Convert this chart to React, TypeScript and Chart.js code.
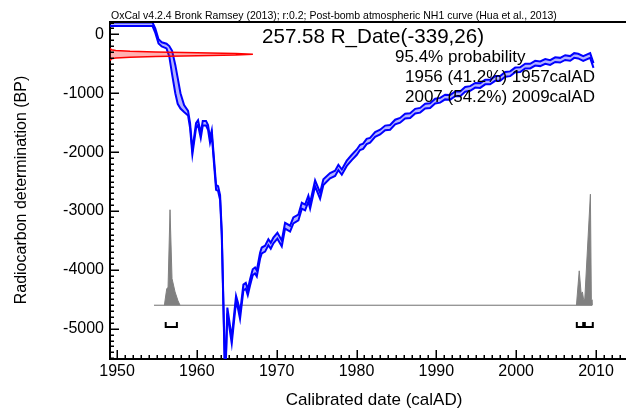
import React, { useEffect, useRef } from "react";
import { Chart, registerables } from "chart.js";

Chart.register(...registerables);

// ---- Data ----
const curveYears = [
  1949.1, 1954.45, 1954.8, 1955.2, 1955.6, 1956.2, 1956.55, 1956.9, 1957.3, 1957.6,
  1957.95, 1958.4, 1958.9, 1959.15, 1959.44, 1959.9, 1960.15, 1960.49, 1960.74, 1961.15,
  1961.4, 1961.65, 1961.87, 1962.07, 1962.41, 1962.66, 1962.91, 1963.12, 1963.55, 1963.82,
  1964.37, 1964.91, 1965.16, 1965.41, 1965.83, 1966.13, 1966.38, 1966.67, 1967.0, 1967.29,
  1967.51, 1967.92, 1968.13, 1968.55, 1968.96, 1969.26, 1969.59, 1970.09, 1970.64, 1971.05,
  1971.68, 1972.09, 1972.72, 1973.15, 1973.56, 1973.97, 1974.19, 1974.81, 1975.44, 1975.85,
  1976.69, 1977.32, 1977.73, 1978.16, 1978.78, 1979.41, 1980.04, 1980.44, 1980.83, 1981.27,
  1981.7, 1982.33, 1982.96, 1983.59, 1984.21, 1984.84, 1985.46, 1986.09, 1986.72, 1987.35,
  1987.97, 1988.6, 1989.22, 1989.85, 1990.48, 1991.1, 1991.73, 1992.36, 1992.98, 1993.61,
  1994.24, 1994.87, 1995.49, 1996.12, 1996.74, 1997.37, 1998.0, 1998.63, 1999.25, 1999.88,
  2000.5, 2001.13, 2001.75, 2002.38, 2003.01, 2003.64, 2004.26, 2004.89, 2005.51, 2006.14,
  2006.77, 2007.27, 2007.77, 2008.4, 2009.27, 2009.69,
];
const curveBP = [
  170, 170, 60, -120, -170, -200, -290, -480, -760, -960,
  -1130, -1260, -1340, -1550, -2000, -1550, -1500, -1720, -1510, -1510,
  -1580, -1800, -1670, -2020, -2600, -2620, -2770, -3380, -5900, -4690,
  -5200, -4490, -4610, -4780, -4300, -4270, -4380, -4210, -4040, -4010,
  -4060, -3760, -3670, -3640, -3530, -3590, -3500, -3420, -3550, -3250,
  -3300, -3160, -3110, -2910, -2940, -2790, -2910, -2530, -2740, -2510,
  -2400, -2360, -2260, -2340, -2190, -2090, -2000, -1920, -1900, -1820,
  -1800, -1700, -1660, -1590, -1580, -1490, -1460, -1390, -1380, -1305,
  -1290, -1220, -1210, -1135, -1120, -1065, -1070, -1010, -1010, -935,
  -920, -865, -870, -810, -810, -750, -750, -680, -670, -605,
  -600, -540, -540, -490, -500, -460, -480, -430, -440, -395,
  -410, -360, -370, -410, -360, -530,
];
const curveSigma = [
  30, 30, 35, 35, 35, 40, 90, 200, 240, 220,
  130, 60, 40, 40, 40, 40, 40, 40, 40, 40,
  40, 40, 40, 40, 40, 40, 40, 40, 40, 50,
  50, 50, 50, 50, 50, 50, 50, 50, 50, 50,
  50, 50, 50, 50, 50, 50, 50, 50, 50, 50,
  50, 50, 50, 50, 50, 50, 50, 50, 50, 50,
  45, 45, 45, 45, 45, 45, 45, 45, 45, 45,
  40, 40, 40, 40, 40, 40, 40, 40, 40, 40,
  40, 40, 40, 40, 40, 40, 40, 40, 40, 40,
  40, 40, 40, 40, 40, 40, 40, 40, 40, 40,
  40, 40, 40, 40, 40, 40, 40, 40, 40, 40,
  40, 40, 40, 40, 40, 40,
];

const rDateMean = -339;
const rDateSigma = 26;
const rDateSpread = [-4, -3, -2.5, -2, -1.5, -1, -0.5, 0, 0.5, 1, 1.5, 2, 2.5, 3, 4];
const rDateDensity = [0, 0.01, 0.04, 0.14, 0.32, 0.61, 0.88, 1, 0.88, 0.61, 0.32, 0.14, 0.04, 0.01, 0];

const histLeftYears = [1955.93, 1956.23, 1956.39, 1956.64, 1956.89, 1957.27, 1957.64, 1957.89];
const histLeftProb = [0, 0.15, 0.16, 0.86, 0.24, 0.12, 0.04, 0];
const histRightYears = [2007.55, 2007.9, 2008.15, 2008.3, 2008.45, 2008.6, 2009.3, 2009.42, 2009.5];
const histRightProb = [0, 0.31, 0.1, 0.12, 0.05, 0.06, 1.0, 0.05, 0];

const rangeStartYears = [1956.1, 2007.6, 2008.6];
const rangeEndYears = [1957.5, 2008.4, 2009.6];

const summaryFrom = [1956, 2007];
const summaryTo = [1957, 2009];
const summaryPct = [41.2, 54.2];
const agreement = "257.58";

const xTickValues = [1950, 1960, 1970, 1980, 1990, 2000, 2010];
const yTickValues = [0, -1000, -2000, -3000, -4000, -5000];

const headerText =
  "OxCal v4.2.4 Bronk Ramsey (2013); r:0.2; Post-bomb atmospheric NH1 curve (Hua et al., 2013)";
const xTitle = "Calibrated date (calAD)";
const yTitle = "Radiocarbon determination (BP)";

// ---- Layout constants ----
const X_MIN = 1949.12;
const X_MAX = 2013.76;
const Y_MIN = -5513;
const Y_MAX = 209;
const HIST_BASE = -4600;
const HIST_SCALE = 1885;
const HIST_FROM = 1954.63;
const HIST_TO = 2009.5;
const BRACKET_TOP = -4885;
const BRACKET_BOTTOM = -4970;
const WEDGE_WIDTH = 17.9;
const FONT = '"Liberation Sans", Arial, sans-serif';

const overlay = {
  id: "overlay",
  afterDraw(chart: any) {
    const { ctx, chartArea, scales } = chart;
    const { left, right, top, bottom } = chartArea;
    const xs = scales.x;
    const ys = scales.y;
    ctx.save();
    ctx.strokeStyle = "#000";
    ctx.lineWidth = 2;
    ctx.beginPath();
    ctx.moveTo(left - 1, top);
    ctx.lineTo(right, top);
    ctx.stroke();

    ctx.lineWidth = 1.5;
    ctx.beginPath();
    for (let v = Math.ceil(X_MIN); v <= X_MAX; v++) {
      const px = Math.round(xs.getPixelForValue(v)) + 0.25;
      const len = v % 10 === 0 ? 9 : 4;
      ctx.moveTo(px, bottom);
      ctx.lineTo(px, bottom - len);
    }
    for (let v = Math.ceil(Y_MIN / 100) * 100; v <= Y_MAX; v += 100) {
      const py = Math.round(ys.getPixelForValue(v)) + 0.25;
      const len = v % 1000 === 0 ? 9 : 4;
      ctx.moveTo(left, py);
      ctx.lineTo(left + len, py);
    }
    ctx.stroke();

    ctx.fillStyle = "#000";
    ctx.textAlign = "left";
    ctx.textBaseline = "alphabetic";
    ctx.font = `10.5px ${FONT}`;
    ctx.fillText(headerText, 111, 19);

    ctx.font = `20.6px ${FONT}`;
    ctx.fillText(`${agreement} R_Date(${rDateMean},${rDateSigma})`, 262, 43);

    ctx.font = `17px ${FONT}`;
    ctx.fillText("95.4% probability", 395, 62);
    summaryFrom.forEach((f, i) => {
      ctx.fillText(`${f} (${summaryPct[i].toFixed(1)}%) ${summaryTo[i]}calAD`, 405, 82 + i * 19.5);
    });

    ctx.font = `17px ${FONT}`;
    ctx.textAlign = "center";
    ctx.fillText(xTitle, 374, 405);

    ctx.font = `16px ${FONT}`;
    ctx.translate(26, 190);
    ctx.rotate(-Math.PI / 2);
    ctx.fillText(yTitle, 0, 0);
    ctx.restore();
  },
};

function pts(xsArr: number[], ysArr: number[]) {
  return xsArr.map((x, i) => ({ x, y: ysArr[i] }));
}

export default function App() {
  const ref = useRef<HTMLCanvasElement | null>(null);

  useEffect(() => {
    if (!ref.current) return;
    const upper = curveYears.map((x, i) => ({ x, y: curveBP[i] + curveSigma[i] }));
    const lower = curveYears.map((x, i) => ({ x, y: curveBP[i] - curveSigma[i] }));
    const wedge = rDateSpread.map((s, i) => ({
      x: X_MIN + rDateDensity[i] * WEDGE_WIDTH,
      y: rDateMean + s * rDateSigma,
    }));
    const histL = pts(histLeftYears, histLeftProb.map((p) => HIST_BASE + p * HIST_SCALE));
    const histR = pts(histRightYears, histRightProb.map((p) => HIST_BASE + p * HIST_SCALE));
    const brackets = rangeStartYears.map((s, i) => ({
      data: [
        { x: s, y: BRACKET_TOP },
        { x: s, y: BRACKET_BOTTOM },
        { x: rangeEndYears[i], y: BRACKET_BOTTOM },
        { x: rangeEndYears[i], y: BRACKET_TOP },
      ],
      borderColor: "#000",
      borderWidth: 2,
      pointRadius: 0,
      fill: false,
      tension: 0,
    }));

    const chart = new Chart(ref.current, {
      type: "line",
      data: {
        datasets: [
          {
            data: wedge,
            borderColor: "#ff0000",
            borderWidth: 1.5,
            backgroundColor: "rgba(255,0,0,0.3)",
            fill: "shape",
            pointRadius: 0,
            tension: 0,
          } as any,
          {
            data: upper,
            borderColor: "#0000ff",
            borderWidth: 2,
            pointRadius: 0,
            fill: false,
            tension: 0,
          },
          {
            data: lower,
            borderColor: "#0000ff",
            borderWidth: 2,
            backgroundColor: "rgba(0,0,255,0.3)",
            fill: "-1",
            pointRadius: 0,
            tension: 0,
          },
          ...brackets,
          {
            data: histL,
            borderColor: "#808080",
            borderWidth: 1,
            backgroundColor: "#808080",
            fill: { value: HIST_BASE },
            pointRadius: 0,
            tension: 0,
          },
          {
            data: histR,
            borderColor: "#808080",
            borderWidth: 1,
            backgroundColor: "#808080",
            fill: { value: HIST_BASE },
            pointRadius: 0,
            tension: 0,
          },
          {
            data: [
              { x: HIST_FROM, y: HIST_BASE },
              { x: HIST_TO, y: HIST_BASE },
            ],
            borderColor: "#707070",
            borderWidth: 1,
            pointRadius: 0,
            fill: false,
          },
        ],
      },
      options: {
        responsive: false,
        devicePixelRatio: 1,
        animation: false,
        layout: { padding: { top: 22, left: 0, right: 0, bottom: 0 } },
        plugins: { legend: { display: false }, tooltip: { enabled: false }, title: { display: false } },
        scales: {
          x: {
            type: "linear",
            min: X_MIN,
            max: X_MAX,
            afterBuildTicks: (s: any) => {
              s.ticks = xTickValues.map((v) => ({ value: v }));
            },
            afterFit: (s: any) => {
              s.height = 49;
            },
            grid: { display: false, drawTicks: false },
            border: { display: true, color: "#000", width: 2 },
            ticks: {
              color: "#000",
              font: { family: FONT, size: 16 },
              padding: 3,
              maxRotation: 0,
              autoSkip: false,
              callback: (v: any) => String(v),
            },
          },
          y: {
            type: "linear",
            min: Y_MIN,
            max: Y_MAX,
            afterBuildTicks: (s: any) => {
              s.ticks = yTickValues.map((v) => ({ value: v }));
            },
            afterFit: (s: any) => {
              s.width = 110;
            },
            grid: { display: false, drawTicks: false },
            border: { display: true, color: "#000", width: 2 },
            ticks: {
              color: "#000",
              font: { family: FONT, size: 16 },
              padding: 6,
              autoSkip: false,
              callback: (v: any) => String(v),
            },
          },
        },
      } as any,
      plugins: [overlay],
    });
    return () => chart.destroy();
  }, []);

  return (
    <div style={{ position: "absolute", left: 0, top: 0, width: 626, height: 408, background: "#fff" }}>
      <canvas ref={ref} width={626} height={408} style={{ display: "block" }} />
    </div>
  );
}
